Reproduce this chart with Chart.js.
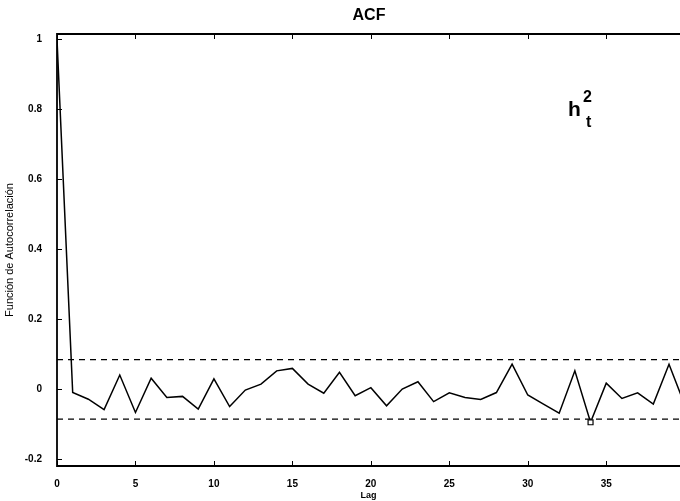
<!DOCTYPE html>
<html>
<head>
<meta charset="utf-8">
<script src="https://cdn.jsdelivr.net/npm/chart.js@4"></script>
<style>
  html, body { margin: 0; padding: 0; background: #fff; }
  #wrap { width: 680px; height: 501px; }
</style>
</head>
<body>
<div id="wrap"><canvas id="acfChart" width="680" height="501"></canvas></div>
<script>
// Lags and sample autocorrelations
const lags = [0, 1, 2, 3, 4, 5, 6, 7, 8, 9, 10, 11, 12, 13, 14, 15, 16, 17, 18, 19, 20,
  21, 22, 23, 24, 25, 26, 27, 28, 29, 30, 31, 32, 33, 34, 35, 36, 37, 38, 39, 40];
const acf = [1, -0.01, -0.029, -0.059, 0.04, -0.067, 0.031, -0.024, -0.021, -0.057, 0.029,
  -0.05, -0.003, 0.014, 0.052, 0.059, 0.014, -0.012, 0.048, -0.019, 0.004,
  -0.048, 0.0, 0.021, -0.036, -0.011, -0.024, -0.03, -0.01, 0.071, -0.017,
  -0.043, -0.069, 0.052, -0.095, 0.017, -0.027, -0.011, -0.043, 0.071, -0.045];
const bandUpper = 0.084;
const bandLower = -0.086;
const markedLag = 34;

const xTicks = [0, 5, 10, 15, 20, 25, 30, 35];
const yTicks = [-0.2, 0, 0.2, 0.4, 0.6, 0.8, 1];
const yTickLabels = ['-0.2', '0', '0.2', '0.4', '0.6', '0.8', '1'];

const FONT = '"Liberation Sans", Arial, sans-serif';

// Axes lines (the right edge is cut off), inward ticks, title and annotation
const matlabFrame = {
  id: 'matlabFrame',
  afterDraw(chart) {
    const { ctx, chartArea: a, scales } = chart;
    ctx.save();
    ctx.strokeStyle = '#000';
    ctx.lineWidth = 1.8;
    ctx.beginPath();
    ctx.moveTo(a.right, a.top);
    ctx.lineTo(a.left, a.top);
    ctx.lineTo(a.left, a.bottom);
    ctx.lineTo(a.right, a.bottom);
    ctx.stroke();

    ctx.lineWidth = 1;
    ctx.beginPath();
    xTicks.forEach(v => {
      const px = Math.round(scales.x.getPixelForValue(v)) + 0.5;
      ctx.moveTo(px, a.bottom); ctx.lineTo(px, a.bottom - 5);
      ctx.moveTo(px, a.top); ctx.lineTo(px, a.top + 5);
    });
    yTicks.forEach(v => {
      const py = Math.round(scales.y.getPixelForValue(v)) + 0.5;
      ctx.moveTo(a.left, py); ctx.lineTo(a.left + 5, py);
    });
    ctx.stroke();

    ctx.fillStyle = '#000';
    ctx.textAlign = 'center';
    ctx.textBaseline = 'middle';
    ctx.font = 'bold 16px ' + FONT;
    ctx.fillText('ACF', 369, 16);

    ctx.textAlign = 'left';
    ctx.textBaseline = 'alphabetic';
    ctx.font = 'bold 21px ' + FONT;
    ctx.fillText('h', 568, 116);
    ctx.font = 'bold 16px ' + FONT;
    ctx.fillText('2', 583, 102);
    ctx.fillText('t', 586, 127);
    ctx.restore();
  }
};

new Chart(document.getElementById('acfChart'), {
  type: 'line',
  data: {
    datasets: [
      {
        data: lags.map((l, i) => ({ x: l, y: acf[i] })),
        borderColor: '#000',
        borderWidth: 1.5,
        tension: 0,
        pointStyle: 'rect',
        pointRadius: ctx => (ctx.raw && ctx.raw.x === markedLag ? 3.5 : 0),
        pointBackgroundColor: '#fff',
        pointBorderColor: '#000',
        pointBorderWidth: 1.2
      },
      {
        data: [{ x: 0, y: bandUpper }, { x: 40, y: bandUpper }],
        borderColor: '#000',
        borderWidth: 1.3,
        borderDash: [6, 5],
        pointRadius: 0
      },
      {
        data: [{ x: 0, y: bandLower }, { x: 40, y: bandLower }],
        borderColor: '#000',
        borderWidth: 1.3,
        borderDash: [6, 5],
        pointRadius: 0
      }
    ]
  },
  options: {
    responsive: false,
    animation: false,
    layout: { padding: { top: 34, right: 0, left: 3, bottom: 0 } },
    plugins: {
      legend: { display: false },
      tooltip: { enabled: false }
    },
    scales: {
      x: {
        type: 'linear',
        min: 0,
        max: 39.7,
        afterFit: s => { s.height = 35; },
        afterBuildTicks: s => { s.ticks = xTicks.map(v => ({ value: v })); },
        grid: { display: false },
        border: { display: false },
        ticks: {
          color: '#000',
          padding: 4,
          maxRotation: 0,
          autoSkip: false,
          font: { family: FONT, size: 10, weight: 'bold' }
        },
        title: {
          display: true,
          text: 'Lag',
          color: '#000',
          padding: { top: 0, bottom: 0 },
          font: { family: FONT, size: 9, weight: 'bold' }
        }
      },
      y: {
        min: -0.22,
        max: 1.015,
        afterFit: s => { s.width = 54; },
        afterBuildTicks: s => { s.ticks = yTicks.map(v => ({ value: v })); },
        grid: { display: false },
        border: { display: false },
        ticks: {
          color: '#000',
          padding: 7,
          autoSkip: false,
          font: { family: FONT, size: 10, weight: 'bold' },
          callback: v => yTickLabels[yTicks.indexOf(v)]
        },
        title: {
          display: true,
          text: 'Función de Autocorrelación',
          color: '#000',
          padding: { top: 0, bottom: 0 },
          font: { family: FONT, size: 11 }
        }
      }
    }
  },
  plugins: [matlabFrame]
});
</script>
</body>
</html>
